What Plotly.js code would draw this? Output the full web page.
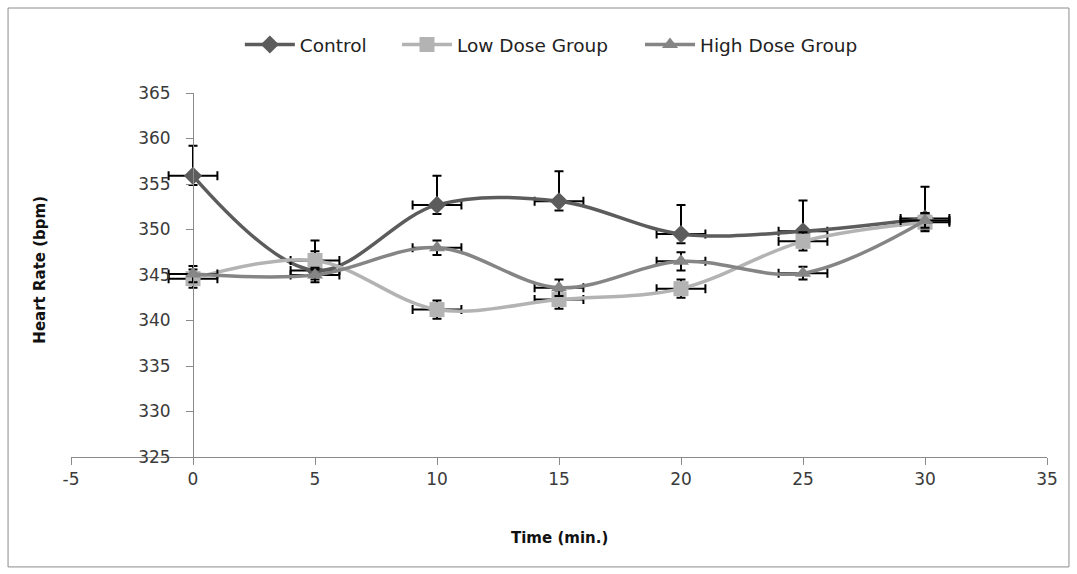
<!DOCTYPE html>
<html>
<head>
<meta charset="utf-8">
<script src="https://cdn.plot.ly/plotly-3.0.1.min.js"></script>
<style>html,body{margin:0;padding:0;background:#fff;}#chart{width:1077px;height:574px;}</style>
</head>
<body>
<div id="chart"></div>
<script>
// Data
var timeMin = [0, 5, 10, 15, 20, 25, 30];
var timeErr = [1, 1, 1, 1, 1, 1, 1];

var controlHR = [355.9, 345.5, 352.7, 353.1, 349.5, 349.8, 351.2];
var controlErrPlus = [3.3, 3.3, 3.2, 3.3, 3.2, 3.4, 3.5];
var controlErrMinus = [1.0, 1.0, 1.0, 1.0, 1.0, 1.0, 1.2];

var lowDoseHR = [344.6, 346.6, 341.2, 342.3, 343.5, 348.7, 350.8];
var lowDoseErr = [1.0, 1.0, 1.0, 1.0, 1.0, 1.0, 1.0];

var highDoseHR = [345.1, 345.0, 348.0, 343.6, 346.5, 345.2, 351.0];
var highDoseErr = [0.9, 0.8, 0.8, 0.9, 1.0, 0.7, 0.8];

var xTickVals = [-5, 0, 5, 10, 15, 20, 25, 30, 35];
var xTickText = ['-5', '0', '5', '10', '15', '20', '25', '30', '35'];

var seriesNames = ['Control', 'Low Dose Group', 'High Dose Group'];
var yTitle = 'Heart Rate (bpm)';
var xTitle = 'Time (min.)';

function errY(plus, minus) {
  return {type: 'data', symmetric: false, array: plus, arrayminus: minus,
          color: '#000', thickness: 2, width: 4.5, visible: true};
}
function errX(vals) {
  return {type: 'data', array: vals, color: '#000', thickness: 2, width: 4.5, visible: true};
}

var traces = [
  {x: timeMin, y: controlHR, name: seriesNames[0], type: 'scatter', mode: 'lines+markers', legend: 'legend',
   line: {color: '#5c5c5c', width: 3.5, shape: 'spline', smoothing: 1},
   marker: {symbol: 'diamond', size: 14, color: '#5c5c5c'},
   error_y: errY(controlErrPlus, controlErrMinus), error_x: errX(timeErr)},
  {x: timeMin, y: lowDoseHR, name: seriesNames[1], type: 'scatter', mode: 'lines+markers', legend: 'legend2',
   line: {color: '#b3b3b3', width: 3.5, shape: 'spline', smoothing: 1},
   marker: {symbol: 'square', size: 15, color: '#b3b3b3'},
   error_y: errY(lowDoseErr, lowDoseErr), error_x: errX(timeErr)},
  {x: timeMin, y: highDoseHR, name: seriesNames[2], type: 'scatter', mode: 'lines+markers', legend: 'legend3',
   line: {color: '#858585', width: 3.5, shape: 'spline', smoothing: 1},
   marker: {symbol: 'triangle-up', size: 14, color: '#858585'},
   error_y: errY(highDoseErr, highDoseErr), error_x: errX(timeErr)}
];

var tickFont = {family: 'DejaVu Sans', size: 17, color: '#3a3a3a'};
var legendFont = {family: 'DejaVu Sans', size: 18.5, color: '#222'};
function legendAt(x) {
  return {orientation: 'h', x: x, xanchor: 'left', y: 1.132, yanchor: 'middle',
          itemwidth: 50, font: legendFont, bgcolor: 'rgba(0,0,0,0)'};
}

var layout = {
  width: 1077, height: 574,
  margin: {l: 71, r: 30, t: 93, b: 117},
  paper_bgcolor: '#fff', plot_bgcolor: '#fff',
  showlegend: true,
  legend: legendAt(0.173),
  legend2: legendAt(0.334),
  legend3: legendAt(0.583),
  xaxis: {range: [-5, 35], tickmode: 'array', tickvals: xTickVals, ticktext: xTickText,
          showgrid: false, zeroline: false,
          showline: true, linecolor: '#8a8a8a', linewidth: 1,
          ticks: 'outside', ticklen: 7, tickcolor: '#8a8a8a', tickfont: tickFont,
          fixedrange: true},
  yaxis: {range: [325, 365], dtick: 5, tick0: 325, anchor: 'free', position: 0.125,
          showgrid: false, zeroline: false, showline: true, linecolor: '#8a8a8a', linewidth: 1,
          ticks: 'outside', ticklen: 7, tickcolor: '#8a8a8a', tickfont: tickFont,
          ticklabelstandoff: 12, fixedrange: true},
  annotations: [
    {text: '<b>' + yTitle + '</b>', xref: 'paper', yref: 'paper', x: -0.032, y: 0.514,
     xanchor: 'center', yanchor: 'middle', textangle: -90, showarrow: false,
     font: {family: 'DejaVu Sans', size: 15, color: '#111'}},
    {text: '<b>' + xTitle + '</b>', xref: 'paper', yref: 'paper', x: 0.5, y: -0.2225,
     xanchor: 'center', yanchor: 'middle', showarrow: false,
     font: {family: 'DejaVu Sans', size: 15, color: '#111'}}
  ],
  shapes: [
    {type: 'rect', xref: 'paper', yref: 'paper', x0: -0.0645, x1: 1.0225, y0: -0.302, y1: 1.2335,
     line: {color: '#8c8c8c', width: 1}, fillcolor: 'rgba(0,0,0,0)', layer: 'below'}
  ]
};

Plotly.newPlot('chart', traces, layout, {staticPlot: true, displayModeBar: false});
</script>
</body>
</html>
